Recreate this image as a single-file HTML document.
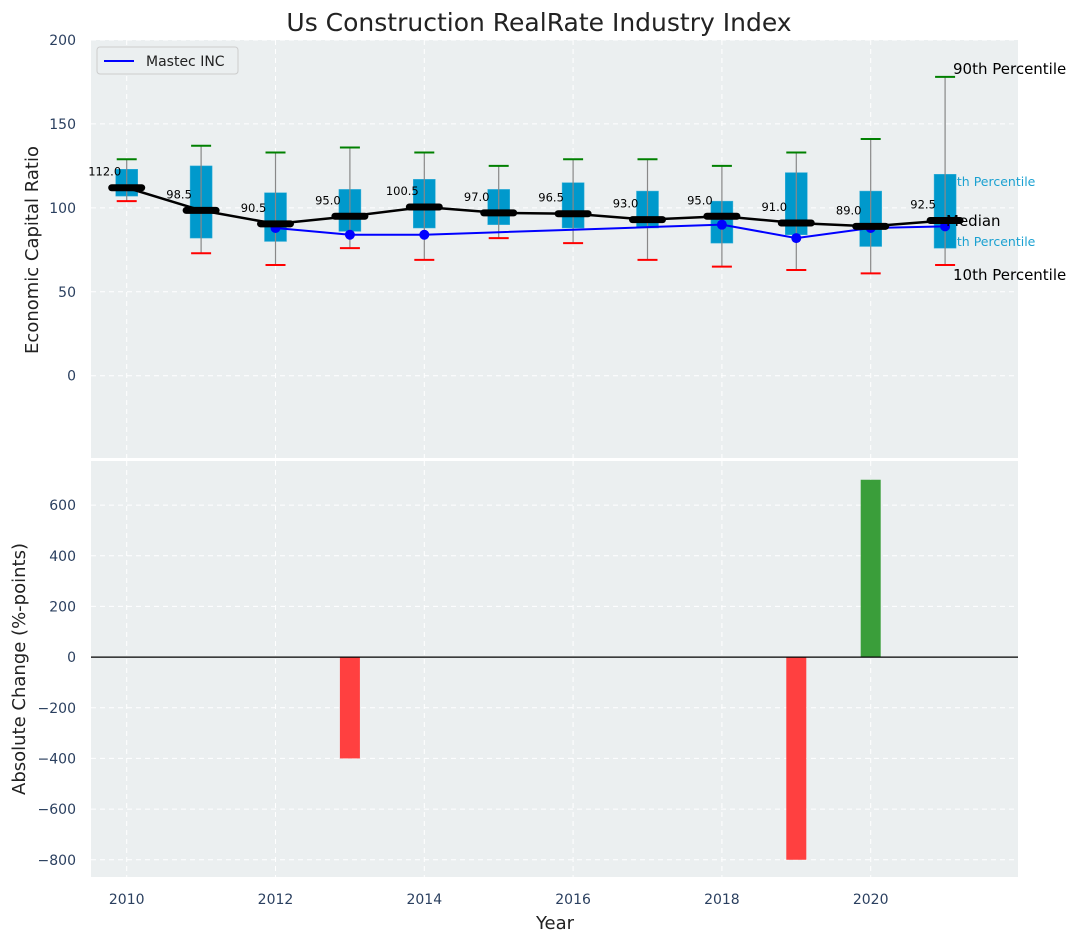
<!DOCTYPE html>
<html><head><meta charset="utf-8"><style>
body{margin:0;background:#fff;font-family:"Liberation Sans","DejaVu Sans",sans-serif}
svg text{font-family:"DejaVu Sans","Liberation Sans",sans-serif}
</style></head><body>
<svg id="c" width="1088" height="942" xmlns="http://www.w3.org/2000/svg"></svg>
<script>
const years=[2010,2011,2012,2013,2014,2015,2016,2017,2018,2019,2020,2021];
const p10=[104,73,66,76,69,82,79,69,65,63,61,66];
const p25=[107,82,80,86,88,90,88,88,79,84,77,76];
const p75=[123,125,109,111,117,111,115,110,104,121,110,120];
const p90=[129,137,133,136,133,125,129,129,125,133,141,178];
const medians=[112,98.5,90.5,95,100.5,97,96.5,93,95,91,89,92.5];
const mastec=[null,null,88,84,84,85.5,87,88.5,90,82,88,89];
const changes=[0,0,0,-400,0,0,0,0,0,-800,700,0];
const topTicks=[0,50,100,150,200];
const botTicks=[-800,-600,-400,-200,0,200,400,600];
const xTicks=[2010,2012,2014,2016,2018,2020];

const NS="http://www.w3.org/2000/svg",svg=document.getElementById('c');
function el(t,a,p){const e=document.createElementNS(NS,t);for(const k in a)e.setAttribute(k,a[k]);(p||svg).appendChild(e);return e;}
const L=91,R=1018;
const x=v=>L+(v-2009.52)/(2021.98-2009.52)*(R-L);
const T0=40,T1=458,y1=v=>T0+(200-v)/(200+49)*(T1-T0);
const B0=461,B1=877,y2=v=>B0+(774-v)/(774+868)*(B1-B0);

let r=el('rect',{x:L,y:T0,width:R-L,height:T1-T0,fill:'#ebeff0'});

r=el('rect',{x:L,y:B0,width:R-L,height:B1-B0,fill:'#ebeff0'});

xTicks.forEach(t=>{[[T0,T1],[B0,B1]].forEach(([a,b])=>el('line',{x1:x(t),x2:x(t),y1:a,y2:b,stroke:'#fff','stroke-dasharray':'5,4','stroke-width':1}));
 const tx=el('text',{x:x(t),y:904,'text-anchor':'middle','font-size':14,fill:'#2a3f5f'});tx.textContent=t;
 });
topTicks.forEach(t=>{el('line',{x1:L,x2:R,y1:y1(t),y2:y1(t),stroke:'#fff','stroke-dasharray':'5,4'});
 const tx=el('text',{x:76,y:y1(t)+5,'text-anchor':'end','font-size':14,fill:'#2a3f5f'});tx.textContent=t;
 });
botTicks.forEach(t=>{el('line',{x1:L,x2:R,y1:y2(t),y2:y2(t),stroke:'#fff','stroke-dasharray':'5,4'});
 const tx=el('text',{x:76,y:y2(t)+5,'text-anchor':'end','font-size':14,fill:'#2a3f5f'});tx.textContent=t<0?'\u2212'+(-t):t;
 });

function txt(s,xx,yy,sz,fill,name,anchor){const t=el('text',{x:xx,y:yy,'font-size':sz,fill:fill,'text-anchor':anchor||'start'});t.textContent=s;return t;}
txt('75th Percentile',941,186,12.5,'#1ba1d1','p75-label');
txt('25th Percentile',941,246,12.5,'#1ba1d1','p25-label');

years.forEach((yr,i)=>{const cx=x(yr);
 const b=el('rect',{x:cx-11,y:y1(p75[i]),width:22,height:y1(p25[i])-y1(p75[i]),fill:'#0099cc',stroke:'#3ab0d8','stroke-width':0.5});
 
 const w=el('line',{x1:cx,x2:cx,y1:y1(p10[i]),y2:y1(p90[i]),stroke:'#888','stroke-width':1.2});
 
 const g=el('line',{x1:cx-10,x2:cx+10,y1:y1(p90[i]),y2:y1(p90[i]),stroke:'green','stroke-width':2});
 
 const rr=el('line',{x1:cx-10,x2:cx+10,y1:y1(p10[i]),y2:y1(p10[i]),stroke:'red','stroke-width':2});
 
});
let d='';mastec.forEach((v,i)=>{if(v==null)return;d+=(d?'L':'M')+x(years[i])+','+y1(v);});
let ml=el('path',{d:d,fill:'none',stroke:'blue','stroke-width':2});

mastec.forEach((v,i)=>{if(v==null||(years[i]>=2015&&years[i]<=2017))return;
 const c=el('circle',{cx:x(years[i]),cy:y1(v),r:5,fill:'blue'});});
d=medians.map((v,i)=>(i?'L':'M')+x(years[i])+','+y1(v)).join('');
let md=el('path',{d:d,fill:'none',stroke:'#000','stroke-width':2.5});

medians.forEach((v,i)=>{const cx=x(years[i]);
 const m=el('line',{x1:cx-15,x2:cx+15,y1:y1(v),y2:y1(v),stroke:'#000','stroke-width':7,'stroke-linecap':'round'});
 
 txt(v.toFixed(1),cx-22,y1(v)-12,11.5,'#000','median-value','middle');});
txt('90th Percentile',953,74,15,'#000','p90-label');
txt('Median',946,226,15,'#000','median-label');
txt('10th Percentile',953,280,15,'#000','p10-label');

changes.forEach((v,i)=>{if(!v)return;const cx=x(years[i]);
 const b=el('rect',{x:cx-10,y:Math.min(y2(v),y2(0)),width:20,height:Math.abs(y2(v)-y2(0)),fill:v<0?'#ff4040':'#3a9e3a'});
 });
el('line',{x1:L,x2:R,y1:y2(0),y2:y2(0),stroke:'#000','stroke-width':1.2});

const lg=el('g',{});
el('rect',{x:97,y:47,width:141,height:27,rx:3,fill:'#ebeff0',stroke:'#ccc'},lg);
el('line',{x1:104,x2:134,y1:61,y2:61,stroke:'blue','stroke-width':2},lg);
let lt=el('text',{x:146,y:66,'font-size':14,fill:'#222'},lg);lt.textContent='Mastec INC';


txt('Us Construction RealRate Industry Index',539,31,25,'#222','chart-title','middle');
txt('Year',555,929,18,'#222','x-axis-title','middle');
let yt=txt('Economic Capital Ratio',38,250,18,'#222','top-y-axis-title','middle');yt.setAttribute('transform','rotate(-90 38 250)');
yt=txt('Absolute Change (%-points)',25,669,18,'#222','bottom-y-axis-title','middle');yt.setAttribute('transform','rotate(-90 25 669)');
</script>
</body></html>
